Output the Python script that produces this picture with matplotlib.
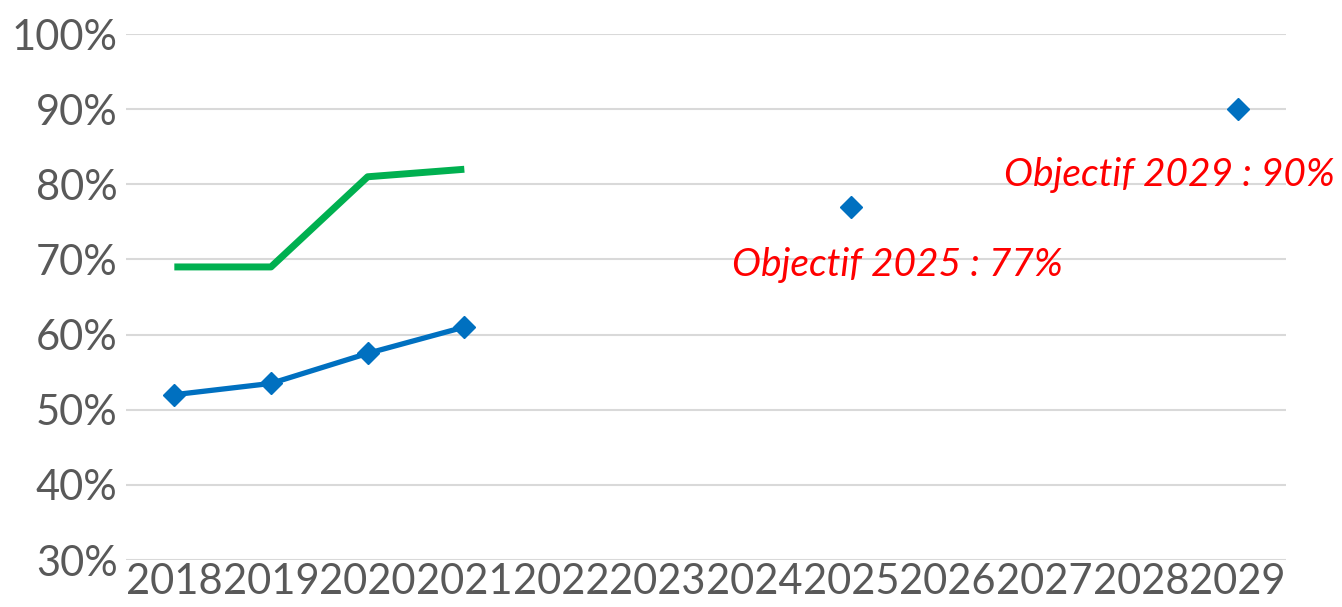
import matplotlib
matplotlib.use("Agg")
import matplotlib.pyplot as plt
import numpy as np

years = ["2018", "2019", "2020", "2021", "2022", "2023", "2024",
         "2025", "2026", "2027", "2028", "2029"]

# blue series: observed 2018-2021, targets 2025 and 2029
blue_years = ["2018", "2019", "2020", "2021"]
blue_vals = [52.0, 53.5, 57.5, 61.0]
target_years = ["2025", "2029"]
target_vals = [77.0, 90.0]
target_labels = ["Objectif 2025 : 77%", "Objectif 2029 : 90%"]

# green series
green_years = ["2018", "2019", "2020", "2021"]
green_vals = [69.0, 69.0, 81.0, 82.0]

yticks = [30, 40, 50, 60, 70, 80, 90, 100]

BLUE = "#0070C0"
GREEN = "#00B050"
GREY = "#595959"

plt.rcParams["font.family"] = ["Lato", "DejaVu Sans"]

fig = plt.figure(figsize=(13.42, 6.07), dpi=100)
ax = fig.add_axes([126 / 1342, 1 - 560 / 607, 1160 / 1342, 526 / 607])

pos = {y: i for i, y in enumerate(years)}

ax.plot([pos[y] for y in green_years], green_vals, color=GREEN, lw=5,
        solid_capstyle="butt", zorder=3)
ax.plot([pos[y] for y in blue_years], blue_vals, color=BLUE, lw=3.8,
        marker="D", markersize=11, zorder=4)
ax.plot([pos[y] for y in target_years], target_vals, ls="none", color=BLUE,
        marker="D", markersize=11, zorder=4)

offsets = [(46, -58), (-68, -66)]
for y, v, lab, off in zip(target_years, target_vals, target_labels, offsets):
    ax.annotate(lab, (pos[y], v), xytext=off, textcoords="offset pixels",
                ha="center", va="center", color="red", style="italic",
                fontsize=28, annotation_clip=False)

ax.set_xlim(-0.5, len(years) - 0.5)
ax.set_ylim(30, 100)
ax.set_xticks(range(len(years)))
ax.set_xticklabels(years)
ax.set_yticks(yticks)
ax.set_yticklabels([f"{t}%" for t in yticks])
ax.tick_params(axis="both", length=0, colors=GREY, labelsize=30)
ax.tick_params(axis="x", pad=2)
ax.tick_params(axis="y", pad=6)

ax.grid(axis="y", color="#D9D9D9", lw=1.5)
ax.set_axisbelow(True)
for s in ax.spines.values():
    s.set_visible(False)

fig.savefig("out.png", dpi=100, facecolor="white")
